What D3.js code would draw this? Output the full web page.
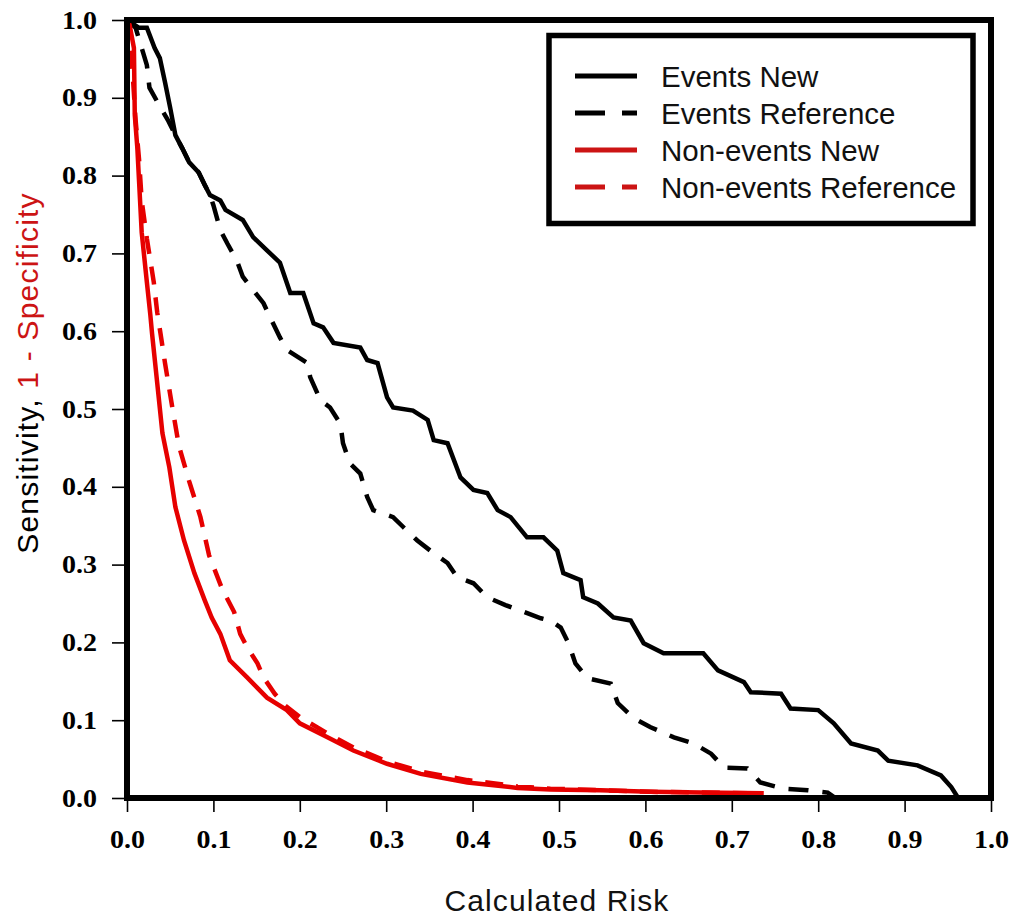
<!DOCTYPE html>
<html>
<head>
<meta charset="utf-8">
<script src="https://cdn.jsdelivr.net/npm/d3@7"></script>
<style>
  html, body { margin: 0; padding: 0; background: #fff; }
  svg { display: block; }
</style>
</head>
<body>
<svg id="chart" width="1011" height="916"></svg>
<script>
// ---- data ----
const xTicks = [0, 0.1, 0.2, 0.3, 0.4, 0.5, 0.6, 0.7, 0.8, 0.9, 1.0];
const yTicks = [0, 0.1, 0.2, 0.3, 0.4, 0.5, 0.6, 0.7, 0.8, 0.9, 1.0];
const seriesNames = ["Events New", "Events Reference", "Non-events New", "Non-events Reference"];

const eventsNew = [
  [0.000,1.000],[0.014,0.990],[0.023,0.990],[0.032,0.964],[0.038,0.951],[0.044,0.920],
  [0.050,0.887],[0.056,0.852],[0.064,0.835],[0.072,0.817],[0.083,0.804],[0.090,0.788],
  [0.096,0.775],[0.108,0.768],[0.114,0.756],[0.134,0.743],[0.146,0.721],[0.162,0.704],
  [0.177,0.688],[0.189,0.649],[0.204,0.649],[0.216,0.610],[0.227,0.605],[0.239,0.585],
  [0.270,0.579],[0.278,0.563],[0.290,0.559],[0.301,0.515],[0.308,0.502],[0.331,0.498],
  [0.348,0.486],[0.355,0.460],[0.371,0.456],[0.386,0.412],[0.401,0.396],[0.417,0.392],
  [0.429,0.370],[0.444,0.361],[0.463,0.335],[0.482,0.335],[0.498,0.318],[0.505,0.289],
  [0.525,0.280],[0.528,0.258],[0.545,0.250],[0.563,0.232],[0.583,0.228],[0.598,0.199],
  [0.621,0.186],[0.667,0.186],[0.684,0.164],[0.714,0.149],[0.722,0.136],[0.757,0.134],
  [0.768,0.115],[0.800,0.113],[0.818,0.096],[0.838,0.070],[0.869,0.061],[0.881,0.048],
  [0.915,0.042],[0.942,0.029],[0.954,0.014],[0.962,0.000]
];

const eventsRef = [
  [0.000,1.000],[0.010,0.990],[0.017,0.964],[0.023,0.942],[0.026,0.913],[0.038,0.889],
  [0.048,0.870],[0.056,0.852],[0.064,0.835],[0.072,0.817],[0.083,0.804],[0.090,0.788],
  [0.096,0.775],[0.100,0.762],[0.108,0.730],[0.116,0.713],[0.127,0.691],[0.134,0.670],
  [0.143,0.657],[0.158,0.636],[0.166,0.617],[0.177,0.592],[0.185,0.576],[0.209,0.559],
  [0.212,0.541],[0.224,0.511],[0.235,0.502],[0.247,0.481],[0.250,0.456],[0.258,0.430],
  [0.270,0.417],[0.278,0.387],[0.285,0.370],[0.308,0.361],[0.320,0.348],[0.336,0.331],
  [0.351,0.318],[0.371,0.302],[0.382,0.284],[0.401,0.276],[0.417,0.258],[0.438,0.248],
  [0.479,0.231],[0.490,0.228],[0.502,0.219],[0.511,0.199],[0.519,0.173],[0.533,0.154],
  [0.560,0.147],[0.568,0.122],[0.586,0.103],[0.606,0.091],[0.633,0.078],[0.656,0.070],
  [0.676,0.057],[0.691,0.039],[0.718,0.038],[0.733,0.020],[0.760,0.012],[0.788,0.010],
  [0.811,0.007],[0.820,0.000]
];

const nonEventsNew = [
  [0.000,1.000],[0.003,0.994],[0.008,0.964],[0.009,0.878],[0.012,0.835],[0.014,0.792],
  [0.017,0.727],[0.023,0.663],[0.027,0.621],[0.029,0.597],[0.035,0.533],[0.041,0.469],
  [0.049,0.425],[0.056,0.374],[0.066,0.331],[0.078,0.289],[0.090,0.254],[0.098,0.232],
  [0.108,0.211],[0.119,0.177],[0.139,0.155],[0.162,0.129],[0.185,0.113],[0.200,0.096],
  [0.232,0.078],[0.262,0.061],[0.301,0.044],[0.340,0.031],[0.394,0.020],[0.452,0.013],
  [0.490,0.011],[0.548,0.010],[0.606,0.008],[0.664,0.007],[0.737,0.006]
];

const nonEventsRef = [
  [0.000,1.000],[0.003,0.974],[0.007,0.923],[0.010,0.871],[0.014,0.820],[0.017,0.768],
  [0.023,0.719],[0.031,0.663],[0.035,0.624],[0.037,0.610],[0.044,0.559],[0.052,0.505],
  [0.060,0.453],[0.072,0.407],[0.085,0.361],[0.095,0.312],[0.110,0.269],[0.124,0.239],
  [0.131,0.211],[0.139,0.194],[0.151,0.173],[0.158,0.155],[0.171,0.134],[0.183,0.119],
  [0.200,0.104],[0.232,0.083],[0.262,0.065],[0.301,0.047],[0.340,0.034],[0.394,0.023],
  [0.452,0.015],[0.490,0.012],[0.548,0.010],[0.606,0.008],[0.664,0.007],[0.720,0.006]
];

// ---- layout ----
const svg = d3.select("#chart");
const L = 127, R = 991, T = 20, B = 798;
const x = d3.scaleLinear().domain([0, 1]).range([L, R]);
const y = d3.scaleLinear().domain([0, 1]).range([B, T]);

const black = "#000";
const red = "#e60000";
const redText = "#cc1414";

svg.append("rect").attr("width", 1011).attr("height", 916).attr("fill", "#fff");

// axes (ticks + labels)
const tickFont = "'Liberation Serif','Times New Roman',serif";
const yAxis = d3.axisLeft(y).tickValues(yTicks).tickFormat(d3.format(".1f"))
  .tickSize(15).tickPadding(15);
const xAxis = d3.axisBottom(x).tickValues(xTicks).tickFormat(d3.format(".1f"))
  .tickSize(14).tickPadding(18);

const gy = svg.append("g").attr("transform", `translate(${L},0)`).call(yAxis);
const gx = svg.append("g").attr("transform", `translate(0,${B})`).call(xAxis);
[gy, gx].forEach(g => {
  g.select(".domain").remove();
  g.selectAll(".tick line").attr("stroke", black).attr("stroke-width", 1.6);
  g.selectAll(".tick text")
    .attr("fill", black)
    .style("font-family", tickFont)
    .style("font-weight", "bold")
    .style("font-size", "25px")
    .attr("textLength", 35)
    .attr("lengthAdjust", "spacingAndGlyphs");
});

// clip for curves
svg.append("clipPath").attr("id", "plotclip")
  .append("rect").attr("x", L).attr("y", T).attr("width", R - L).attr("height", B - T);

const line = d3.line().x(d => x(d[0])).y(d => y(d[1])).curve(d3.curveLinear);
const plot = svg.append("g").attr("clip-path", "url(#plotclip)");

const series = [
  { data: eventsNew,    color: black, dash: null },
  { data: eventsRef,    color: black, dash: "20,14" },
  { data: nonEventsRef, color: red,   dash: "18,13" },
  { data: nonEventsNew, color: red,   dash: null }
];
series.forEach(s => {
  plot.append("path")
    .attr("d", line(s.data))
    .attr("fill", "none")
    .attr("stroke", s.color)
    .attr("stroke-width", 4.5)
    .attr("stroke-linejoin", "miter")
    .attr("stroke-dasharray", s.dash);
});

// frame
svg.append("rect")
  .attr("x", L).attr("y", T).attr("width", R - L).attr("height", B - T)
  .attr("fill", "none").attr("stroke", black).attr("stroke-width", 6);

// legend
const legend = svg.append("g");
legend.append("rect")
  .attr("x", 549).attr("y", 35.5).attr("width", 424).attr("height", 188)
  .attr("fill", "#fff").attr("stroke", black).attr("stroke-width", 5.5);
const legendStyles = [
  { color: black, dash: null },
  { color: black, dash: "30,17,15,40" },
  { color: "#cc1414", dash: null },
  { color: "#cc1414", dash: "30,17,15,40" }
];
seriesNames.forEach((name, i) => {
  const cy = 76 + i * 37;
  legend.append("line")
    .attr("x1", 575).attr("x2", 637).attr("y1", cy).attr("y2", cy)
    .attr("stroke", legendStyles[i].color).attr("stroke-width", 5)
    .attr("stroke-dasharray", legendStyles[i].dash);
  legend.append("text")
    .attr("x", 661).attr("y", cy + 11)
    .style("font-family", "'Liberation Sans', Arial, sans-serif")
    .style("font-size", "29.5px")
    .attr("fill", "#111")
    .text(name);
});

// axis titles
svg.append("text")
  .attr("x", 557).attr("y", 911)
  .attr("text-anchor", "middle")
  .style("font-family", "'Liberation Sans', Arial, sans-serif")
  .style("font-size", "30px")
  .style("letter-spacing", "1.1px")
  .attr("fill", "#111")
  .text("Calculated Risk");

const yt = svg.append("text")
  .attr("transform", "translate(38,373) rotate(-90)")
  .attr("text-anchor", "middle")
  .attr("fill", "#000")
  .style("font-family", "'Liberation Sans', Arial, sans-serif")
  .style("font-size", "30px")
  .style("letter-spacing", "1.2px");
yt.append("tspan").style("fill", "#000").text("Sensitivity, ");
yt.append("tspan").style("fill", redText).text("1 - Specificity");
</script>
</body>
</html>
